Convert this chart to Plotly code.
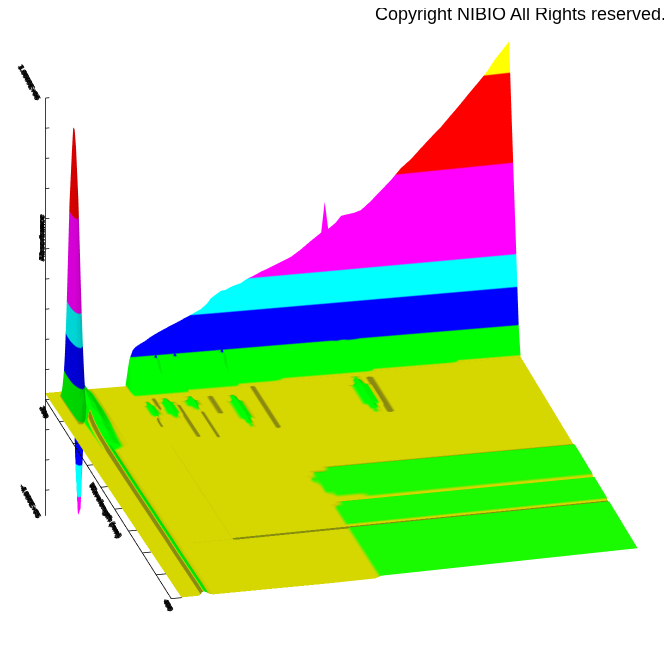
import numpy as np
import plotly.graph_objects as go

# ---- surface sample positions (fractions of the time / wavelength axes) ----
left_s = [0, .01, .02, .025, .03, .035, .04, .045, .05, .055, .06, .065, .07, .075, .08, .09, .10, .12, .14, .16, .17]
wall_s = [.177, .184, .19, .198, .21, .219, .23, .24, .252, .26, .27, .284, .29, .30, .31, .327, .34, .348, .36, .37,
          .38, .39, .40, .412, .424, .437, .455, .47, .498, .52, .541, .56, .584, .592, .599, .615, .627, .64, .655,
          .67, .69, .714, .735, .757, .78, .801, .82, .845, .87, .889, .91, .934, .95, .968, .985, 1.0]
wall_top = [1.0, 1.32, 1.42, 1.5, 1.6, 1.7, 1.8, 1.88, 1.97, 2.03, 2.1, 2.2, 2.25, 2.32, 2.4, 2.53, 2.7, 2.87, 3.0, 3.1,
            3.12, 3.2, 3.25, 3.3, 3.42, 3.5, 3.63, 3.72, 3.9, 4.05, 4.27, 4.5, 4.77, 5.8, 4.87, 5.05, 5.27, 5.3, 5.33,
            5.4, 5.65, 6.0, 6.3, 6.67, 6.95, 7.27, 7.55, 7.9, 8.3, 8.6, 8.95, 9.33, 9.6, 9.97, 10.25, 10.5]
wall_foot = [.06] * 12 + [.05] * 10 + [.04] * 6 + [.03] * 12 + [.02] * 8 + [.01] * 8
row_t = [0, .002, .01, .02, .03, .04, .05, .06, .07, .08, .09, .10, .11, .12, .13, .14, .15, .16, .17, .18, .19, .20,
         .21, .22, .23, .24, .25, .26, .27, .28, .30, .33, .36, .40, .44, .455, .47, .49, .52, .55, .58, .60, .615,
         .625, .635, .66, .70, .74, .745, .75, .755, .76, .80, .85, .90, .95, 1.0]

# ---- intensity levels and colours ----
levels = [0.115, 1.1, 2.35, 3.45, 6.5, 9.5]
band_colors = ["#d6d600", "#00ff00", "#0000ff", "#00ffff", "#ff00ff", "#ff0000", "#ffff00"]
shade_color = "#8a8a10"
z_min, z_max = -4.3, 10.6
floor_level = 0.08
green_level = 0.15

# ---- tall peak near the start of the run ----
spike_t = [.02, .03, .04, .05, .06, .07, .08, .09, .10, .11, .12, .13, .14, .15, .16]
spike_z = [.08, 1.5, 3.5, 6.2, 8.4, 9.3, 9.3, 8.8, 7.0, 5.0, 3.0, 1.6, 1.0, .8, .08]
spike_col = [.025, .03, .035, .04, .045, .05, .055]
spike_share = [0, .35, .8, 1.0, .8, .35, 0]
# negative peak at the back edge
dip_s = [.065, .07, .075, .08]
dip_t = [0, .002, .01, .02]
dip_z = [[-2.5, -4.05, -3.85, -2.0], [-2.5, -4.05, -3.85, -2.0], [-1.5, -2.6, -2.4, -1.2], [-.1, -.2, -.2, -.1]]

# ---- early ridge along the wavelength axis ----
ridge_t = row_t[2:]
ridge_z = [.6, .9, .95, 1, 1, 1, 1, 1, 1, 1, .98, .95, .9, .87, .8, .75, .7, .63, .56, .5, .47, .44, .41, .38, .36,
           .35, .34, .33, .3, .29, .28, .27, .26, .26, .26, .25, .25, .25, .25, .25, .25, .25, .24, .24, .24, .24,
           .24, .23, .23, .23, .22, .22, .22, .22, .2]
ridge_s = [.04, .045, .05, .055, .06, .065, .07, .075, .08, .09]
ridge_wide = [.2, .8, 1.0, .9, .8, .7, .55, .4, .25, .08]
ridge_thin = [.1, .9, 1.0, .7, .3, .1, 0, 0, 0, 0]

# ---- raised green spots on the floor ----
spot_s = [.19, .234, .285, .372, .64]
spot_t0 = [.09, .08, .08, .085, .05]
spot_t1 = [.17, .17, .14, .24, .22]
spot_z = [.2, .2, .2, .22, .22]
# ---- dark thin streaks on the floor ----
dark_s = [.424, .247, .29, .67, .33, .21, .19, .184]
dark_t0 = [.05, .11, .15, .05, .08, .07, .17, .30]
dark_t1 = [.25, .26, .27, .22, .16, .12, .20, .74]
dark_c = [-.06, -.06, -.06, -.06, -.05, -.05, -.05, .01]
# ---- dents in the green band of the wall ----
dent_s = [.23, .27, .37]
dent_z = [.3, .3, .35]
# ---- places where the blue band runs lower ----
notch_s = [.615, .64, .655]
notch_z = [1.25, 1.3, 1.2]

# ---- raised (green) parts of the floor: first time fraction per row ----
zone_t = [.47, .49, .52, .55, .58, .60, .615, .635, .66, .70, .74, .76, .80, .85, .90, .95, 1.0]
zone_s = [.47, .43, .424, .425, .435, .455, .52, .44, .437, .437, .437, .437, .437, .437, .437, .437, .437]

tick_z = [-3, -2, -1, 0, 1, 2, 3, 4, 5, 6, 7, 8, 9, 10]
tick_t = [.11, .22, .33, .44, .55, .66, .77, .88, 1.0]

S = np.array(left_s + wall_s)
T = np.array(row_t)
Z = np.full((len(T), len(S)), floor_level)


def col(v):
    return int(np.argmin(np.abs(S - v)))


def row(v):
    return int(np.argmin(np.abs(T - v)))


for t, s0 in zip(zone_t, zone_s):
    Z[row(t), S >= s0] = green_level
for t, z in zip(ridge_t, ridge_z):
    prof = ridge_wide if t < .3 else ridge_thin
    for s, p in zip(ridge_s, prof):
        Z[row(t), col(s)] = max(Z[row(t), col(s)], floor_level + (z - floor_level) * p)
for s, t0, t1, z in zip(spot_s, spot_t0, spot_t1, spot_z):
    j = col(s)
    for i, t in enumerate(T):
        if t0 <= t <= t1:
            f = (t - t0) / (t1 - t0)
            Z[i, j] = z if .08 < f < .92 else green_level
            if .2 < f < .8:
                Z[i, j - 1] = max(Z[i, j - 1], green_level)
                Z[i, j + 1] = max(Z[i, j + 1], green_level)
for s, top, foot in zip(wall_s, wall_top, wall_foot):
    j = col(s)
    Z[0, j] = top
    Z[1, j] = min(top, 1.0)
    n = row(foot)
    for i in range(2, n):
        Z[i, j] = 1.0 + (floor_level - 1.0) * (T[i] - T[1]) / (T[n] - T[1])
for s, z in zip(notch_s, notch_z):
    Z[1, col(s)] = z
for s, z in zip(dent_s, dent_z):
    for t in (.01, .02, .03):
        Z[row(t), col(s)] += z
for ii, t in enumerate(dip_t):
    for jj, s in enumerate(dip_s):
        Z[row(t), col(s)] = dip_z[ii][jj]

# colour follows the size of the signal; darker creases get the shade band below zero
C = np.abs(Z)
for s, t0, t1, c in zip(dark_s, dark_t0, dark_t1, dark_c):
    for i, t in enumerate(T):
        if t0 <= t <= t1:
            C[i, col(s)] = c
for i, t in enumerate(T):
    if t > .16:
        C[i, col(.045)] = -.2
C[row(.75), col(.19):] = -.9
C[row(.75), col(.10):col(.19)] = .01
C[row(.745), col(.19):] = floor_level
C[row(.755), col(.19):] = floor_level


def warp(s, t, z):
    # the reference's view is not a perfect parallel projection: small corner corrections
    xx = s + t * (9 - 18 * s) / 474 + (1 - t) * (2 - 6 * s) / 474
    tw = t + ((1 - t) * (-4.5 + 7 * s) + t * (3.5 - 5 * s)) / 198 + (1 - s) * .008 * np.clip(z, 0, None)
    return xx * 100 * (1 - 0.0021 * np.clip(z, 0, None)), (1 - tw) * 100


SS, TT = np.meshgrid(S, T)
X2, Y2 = warp(SS, TT, Z)
X2, Y2, Z2, C2 = X2[::-1], Y2[::-1], Z[::-1], C[::-1]

c_min = -1.0
span = z_max - c_min
edges = [0] + [(v - c_min) / span for v in [0] + levels] + [1]
stops = []
for k, c in enumerate([shade_color] + band_colors):
    stops += [[edges[k], c], [edges[k + 1], c]]

fig = go.Figure()
fig.add_trace(go.Surface(x=X2, y=Y2, z=Z2, surfacecolor=C2, colorscale=stops, cmin=c_min, cmax=z_max,
                         showscale=False, hoverinfo="skip",
                         lighting=dict(ambient=.75, diffuse=.6, specular=0, roughness=1, fresnel=0),
                         lightposition=dict(x=-100000, y=60000, z=-80000)))

# the peak is drawn on its own so that its shaded faces can be darker than the wall
Sp, Tp = np.meshgrid(np.array(spike_col), np.array(spike_t))
Zp = np.outer(np.array(spike_z), np.array(spike_share))
Zp = np.maximum(Zp, floor_level - .01)
Xp, Yp = warp(Sp, Tp, np.zeros_like(Zp))
fig.add_trace(go.Surface(x=Xp[::-1], y=Yp[::-1], z=Zp[::-1], surfacecolor=Zp[::-1], colorscale=stops, cmin=c_min,
                         cmax=z_max, showscale=False, hoverinfo="skip",
                         lighting=dict(ambient=.74, diffuse=.1, specular=0, roughness=1, fresnel=0),
                         lightposition=dict(x=-100000, y=0, z=0)))

lx, ly, lz = [], [], []


def seg(a, b):
    lx.extend([a[0], b[0], None])
    ly.extend([a[1], b[1], None])
    lz.extend([a[2], b[2], None])


seg((0, 100, -3.85), (0, 100, 10))
for v in tick_z:
    seg((0, 100, v), (.8, 100, v))
seg((0, 100, 0), (0, 0, 0))
seg((0, 100, 0), (18, 100, 0))
for t in tick_t:
    seg((0, (1 - t) * 100, 0), (2.2, (1 - t) * 100, 0))
fig.add_trace(go.Scatter3d(x=lx, y=ly, z=lz, mode="lines", line=dict(color="black", width=1.5),
                           hoverinfo="skip", showlegend=False))

hidden = dict(visible=False, showspikes=False)
OFF = 8  # page margin of the written html


def pax(px):
    return (px - OFF) / 672


def pay(py):
    return 1 - (py - OFF) / 672


K = 1.46
view = np.array([-.2194, -.895, .3877])
center = np.array([-.006, 0, .1185])
eye = center + 2 * view
fig.update_layout(
    width=672, height=672, margin=dict(l=0, r=0, t=0, b=0), paper_bgcolor="white", showlegend=False,
    scene=dict(
        domain=dict(x=[0, 1], y=[0, 1]),
        xaxis=dict(range=[-1, 101], **hidden), yaxis=dict(range=[-1, 102], **hidden),
        zaxis=dict(range=[z_min, z_max], **hidden),
        aspectmode="manual", aspectratio=dict(x=1.02 * K, y=1.109 * K, z=.994 * K),
        camera=dict(projection=dict(type="orthographic"), up=dict(x=0, y=0, z=1),
                    center=dict(x=center[0], y=center[1], z=center[2]),
                    eye=dict(x=eye[0], y=eye[1], z=eye[2])),
    ),
    annotations=[
        dict(text="Copyright NIBIO All Rights reserved.", xref="paper", yref="paper", x=pax(668), y=pay(14),
             xanchor="right", yanchor="middle", showarrow=False,
             font=dict(family="Liberation Sans", size=18, color="black")),
    ] + [
        dict(text=txt, xref="paper", yref="paper", x=pax(px), y=pay(py), xanchor="center", yanchor="middle",
             textangle=ang, showarrow=False,
             font=dict(family="Liberation Sans", size=sz, color="black", weight="bold",
                       shadow="1px 0 0 black, -1px 0 0 black, 0 1px 0 black"))
        for txt, px, py, ang, sz in [("1.0000E+06", 30, 82, 62, 7), ("Absorbance", 41, 238, -90, 8),
                                     ("200", 45, 412, 68, 7), ("-4.000E+05", 30, 501, 62, 7),
                                     ("Wavelength (nm)", 106, 510, 62, 7.5), ("400", 169, 605, 62, 7)]
    ],
)
fig.write_html("out.html")
